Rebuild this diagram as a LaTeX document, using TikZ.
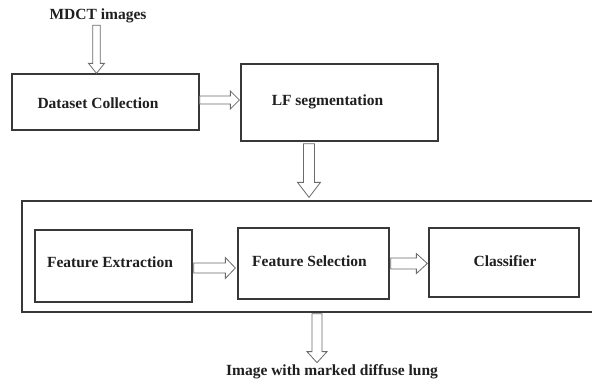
\documentclass[tikz,border=0pt]{standalone}
\usepackage{fontspec}
\setmainfont{Liberation Serif}
\usetikzlibrary{calc}
\tikzset{
  box/.style={draw=black!78, line width=1.3pt, fill=white, rectangle, inner sep=0pt},
  lbl/.style={font=\fontsize{15.5}{18}\selectfont\bfseries, text=black!88, inner sep=2pt},
  blk/.style={draw=black!58, line width=0.8pt, fill=white, line join=miter}
}
\newcommand{\blkR}[5]{%
  \draw[blk] let \p1=#1, \p2=#2 in
    (\x1,\y1+#3) -- (\x2-#5,\y1+#3) -- (\x2-#5,\y1+#4) -- (\x2,\y1) --
    (\x2-#5,\y1-#4) -- (\x2-#5,\y1-#3) -- (\x1,\y1-#3) -- cycle;}
\newcommand{\blkD}[5]{%
  \draw[blk] let \p1=#1, \p2=#2 in
    (\x1-#3,\y1) -- (\x1-#3,\y2+#5) -- (\x1-#4,\y2+#5) -- (\x1,\y2) --
    (\x1+#4,\y2+#5) -- (\x1+#3,\y2+#5) -- (\x1+#3,\y1) -- cycle;}
\begin{document}
\begin{tikzpicture}[x=1pt,y=-1pt]
\useasboundingbox[fill=white] (0,0) rectangle (592,381);

% top row
\node[lbl] (mdct) at (98,16) {MDCT images};
\node[box, minimum width=187pt, minimum height=56pt] (ds) at (105.5,102) {};
\node[lbl] (dst) at (98,103) {Dataset Collection};
\node[box, minimum width=197pt, minimum height=77pt] (lf) at (339.5,102.5) {};
\node[lbl] (lft) at (327.5,102) {LF segmentation};

% outer container
\node[box, minimum width=571pt, minimum height=111pt] (outer) at (307.5,256.5) {};

% inner row
\node[box, minimum width=157pt, minimum height=72pt] (fe) at (113.5,266) {};
\node[lbl] (fet) at (110,262) {Feature Extraction};
\node[box, minimum width=151pt, minimum height=71pt] (fs) at (313.5,263.5) {};
\node[lbl] (fst) at (309.5,261) {Feature Selection};
\node[box, minimum width=150pt, minimum height=69pt] (cl) at (504,262.5) {};
\node[lbl] (clt) at (505,261) {Classifier};

% output text
\node[lbl] (img) at (332,372) {Image with marked diffuse lung};

% block arrows
\blkD{($(mdct.south)+(-1.5,0)$)}{(ds.north)}{3.8pt}{8pt}{10pt}
\blkR{($(ds.east)+(0,-2)$)}{($(lf.west)+(-1,0)$)}{4pt}{9pt}{9pt}
\blkD{($(lf.south)+(-30.5,2)$)}{($(outer.north)+(0,-3)$)}{5.5pt}{11.5pt}{15pt}
\blkR{($(fe.east)+(1,2)$)}{($(fs.west)+(-2,0)$)}{5pt}{10.5pt}{10pt}
\blkR{($(fs.east)+(1,0)$)}{($(cl.west)+(-1,0)$)}{5.5pt}{10pt}{11pt}
\blkD{($(outer.south)+(9.5,1)$)}{($(img.north)+(0,0)$)}{5pt}{10pt}{11pt}
\end{tikzpicture}
\end{document}
